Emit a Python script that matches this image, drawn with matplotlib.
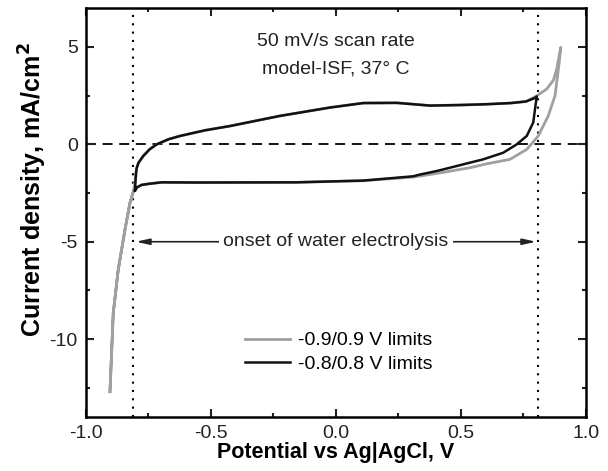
import matplotlib
matplotlib.use('Agg')
import matplotlib.pyplot as plt
from matplotlib.ticker import MultipleLocator

plt.rcParams['font.family'] = ['Liberation Sans', 'DejaVu Sans']

# -0.8/0.8 V limits (closed loop, starting at lower-left corner)
v_black = [-0.804, -0.80, -0.797, -0.79, -0.771, -0.745, -0.717, -0.67, -0.624,
           -0.524, -0.424, -0.224, -0.024, 0.109, 0.243, 0.376, 0.50, 0.603,
           0.70, 0.76, 0.796, 0.803, 0.796, 0.789, 0.763, 0.723, 0.669, 0.589,
           0.536, 0.456, 0.403, 0.336, 0.309, 0.109, -0.157, -0.557, -0.697,
           -0.744, -0.777, -0.795, -0.804]
i_black = [-2.37, -1.46, -1.2, -0.95, -0.6, -0.25, 0.0, 0.26, 0.43,
           0.72, 0.94, 1.46, 1.89, 2.12, 2.13, 1.99, 2.02, 2.06,
           2.12, 2.2, 2.38, 2.46, 1.8, 1.12, 0.43, 0.0, -0.43, -0.77,
           -0.94, -1.2, -1.37, -1.55, -1.64, -1.86, -1.95, -1.96, -1.95,
           -2.02, -2.08, -2.2, -2.37]

# -0.9/0.9 V limits
v_grey = [-0.904, -0.891, -0.871, -0.844, -0.824, -0.81, -0.80, -0.797, -0.79,
          -0.771, -0.745, -0.717, -0.67, -0.624, -0.524, -0.424, -0.224, -0.024,
          0.109, 0.243, 0.376, 0.50, 0.603, 0.70, 0.76, 0.803, 0.843, 0.870,
          0.883, 0.899, 0.893, 0.876, 0.849, 0.809, 0.763, 0.696, 0.603, 0.536,
          0.423, 0.336, 0.309, 0.109, -0.157, -0.557, -0.697, -0.744, -0.777,
          -0.795, -0.81, -0.824, -0.844, -0.871, -0.891, -0.904]
i_grey = [-12.7, -8.68, -6.44, -4.38, -3.0, -2.41, -1.6, -1.25, -0.95,
          -0.6, -0.25, 0.0, 0.26, 0.43, 0.72, 0.94, 1.46, 1.89,
          2.12, 2.13, 1.99, 2.02, 2.06, 2.12, 2.2, 2.49, 2.84, 3.3,
          3.87, 4.98, 4.21, 2.49, 1.46, 0.43, -0.26, -0.77, -1.0, -1.2,
          -1.45, -1.63, -1.68, -1.87, -1.95, -1.96, -1.95, -2.02, -2.08,
          -2.2, -2.41, -3.0, -4.38, -6.44, -8.68, -12.7]

labels = ['-0.9/0.9 V limits', '-0.8/0.8 V limits']
onset = 0.81

fig = plt.figure(figsize=(6.08, 4.71), dpi=100)
ax = fig.add_axes([0.1414, 0.1146, 0.8224, 0.8684])

ax.axhline(0, color='k', ls=(0, (5.5, 3.7)), lw=1.3, zorder=1)
ax.axvline(-onset, color='k', ls=(0, (1, 3)), lw=1.5, zorder=1)
ax.axvline(onset, color='k', ls=(0, (1, 3)), lw=1.5, zorder=1)

ax.plot(v_grey, i_grey, color='#a39f9c', lw=2.0, label=labels[0], zorder=2)
ax.plot(v_black, i_black, color='#111111', lw=1.8, label=labels[1], zorder=3)

ax.annotate('', xy=(-onset + 0.01, -5), xytext=(onset - 0.01, -5),
            arrowprops=dict(arrowstyle='<|-|>,head_length=0.8,head_width=0.18',
                            color='#222222', lw=1.2, shrinkA=0, shrinkB=0))
ax.text(0.0, -5, 'onset of water electrolysis', ha='center', va='center',
        fontsize=14, color='#222222',
        bbox=dict(facecolor='white', edgecolor='none', pad=3))

ax.text(0.0, 5.3, '50 mV/s scan rate', ha='center', va='center', fontsize=14,
        color='#222222')
ax.text(0.0, 3.85, 'model-ISF, 37° C', ha='center', va='center', fontsize=14,
        color='#222222')

ax.set_xlim(-1.0, 1.0)
ax.set_ylim(-14, 7)
ax.xaxis.set_minor_locator(MultipleLocator(0.25))
ax.yaxis.set_minor_locator(MultipleLocator(2.5))
ax.set_xticks([-1.0, -0.5, 0.0, 0.5, 1.0])
ax.set_xticklabels(['-1.0', '-0.5', '0.0', '0.5', '1.0'])
ax.set_yticks([-10, -5, 0, 5])
ax.set_yticklabels(['-10', '-5', '0', '5'])
ax.tick_params(which='both', direction='in', top=True, right=True,
               labelsize=14, colors='#222222', width=1.5)
ax.tick_params(which='major', length=6, pad=6)
ax.tick_params(which='minor', length=3)
for s in ax.spines.values():
    s.set_linewidth(1.8)

ax.set_xlabel('Potential vs Ag|AgCl, V', fontsize=15.5, fontweight='bold',
              labelpad=0)
ax.set_ylabel(r'Current density, mA/cm$\mathbf{^2}$', fontsize=18,
              fontweight='bold')
ax.yaxis.set_label_coords(-0.073, 0.555)

ax.legend(loc='center', bbox_to_anchor=(0.506, 0.158), frameon=False,
          fontsize=14, handlelength=2.3, handletextpad=0.4, labelspacing=0.3)

fig.savefig('out.png', dpi=100)
